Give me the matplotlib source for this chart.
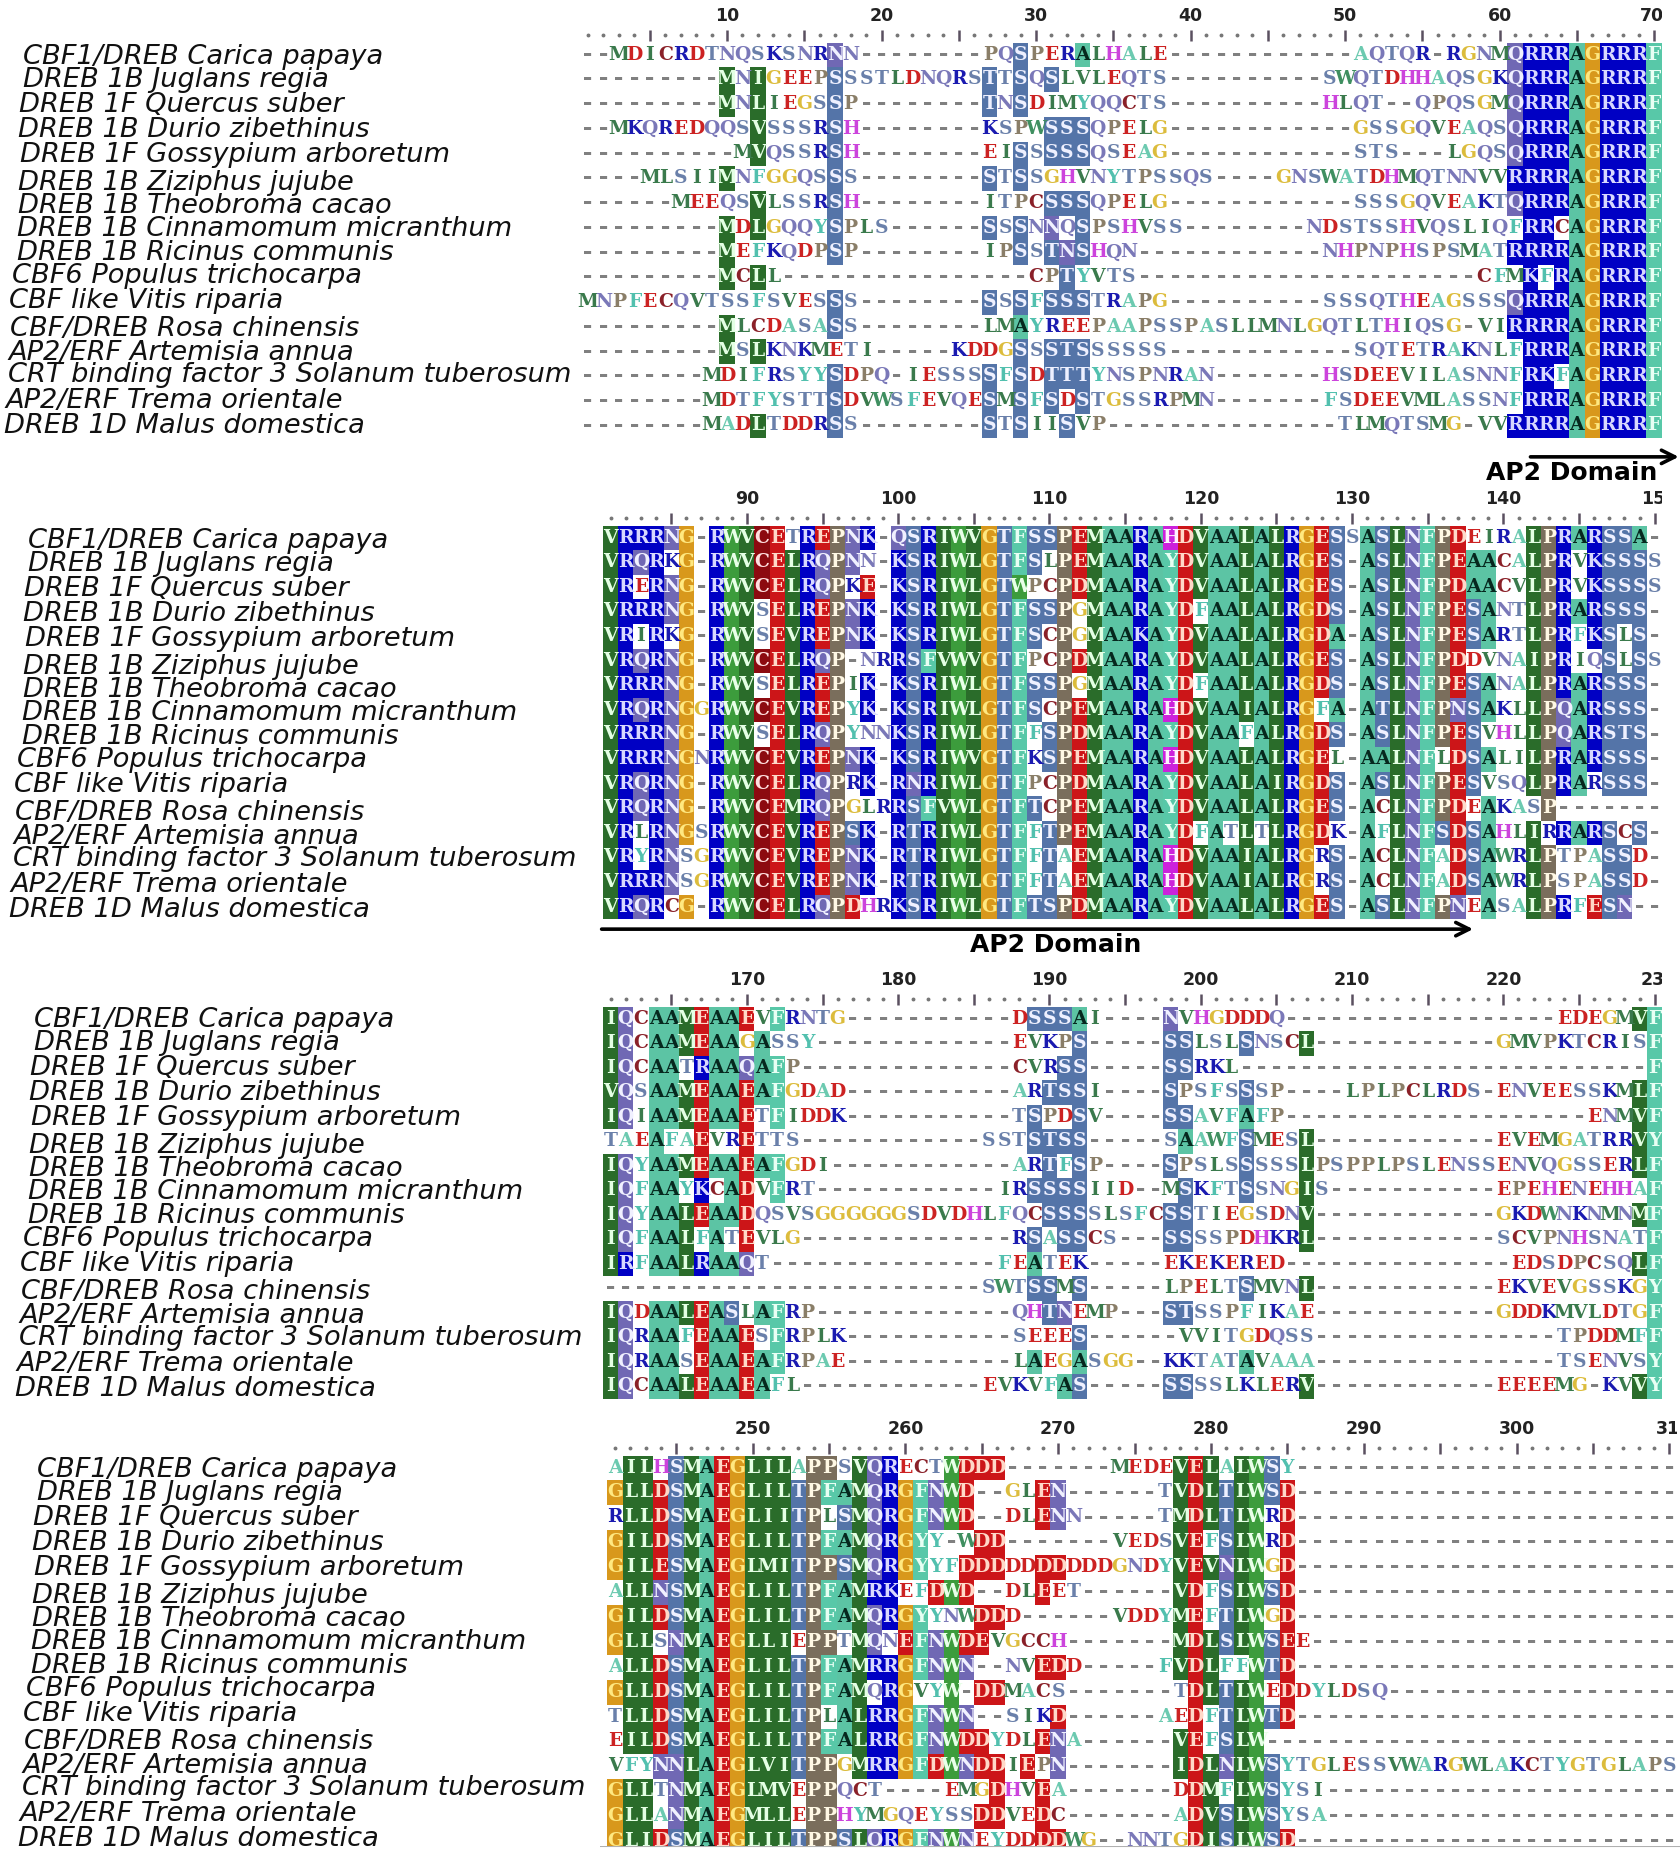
import matplotlib
matplotlib.use('Agg')
import matplotlib.pyplot as plt
from matplotlib.patches import Rectangle
from matplotlib.transforms import Bbox

W, H = 1681, 1857

# Row names of the alignment
names = ["CBF1/DREB Carica papaya", "DREB 1B Juglans regia", "DREB 1F Quercus suber",
         "DREB 1B Durio zibethinus", "DREB 1F Gossypium arboretum", "DREB 1B Ziziphus jujube",
         "DREB 1B Theobroma cacao", "DREB 1B Cinnamomum micranthum", "DREB 1B Ricinus communis",
         "CBF6 Populus trichocarpa", "CBF like Vitis riparia", "CBF/DREB Rosa chinensis",
         "AP2/ERF Artemisia annua", "CRT binding factor 3 Solanum tuberosum",
         "AP2/ERF Trema orientale", "DREB 1D Malus domestica"]

# Sequences, ten columns per piece. Upper case = shaded cell, lower case = plain letter
block1 = [
    "--mdicrdtn" "qsksnrNn--" "------pqSp" "erAlhale--" "----------" "aqtqr-rgnm" "QRRRAGRRRF",
    "---------M" "nIgeepSsst" "ldnqrsTtSq" "Slvleqts--" "--------sw" "qtdhhaqsgk" "QRRRAGRRRF",
    "---------M" "nLiegsSp--" "------TnSd" "imyqqcts--" "--------hl" "qt--qpqsgm" "QRRRAGRRRF",
    "--mkqredqq" "sVsssrSh--" "------kspw" "SSSqpelg--" "----------" "gssgqveaqs" "QRRRAGRRRF",
    "----------" "mVqssrSh--" "------eiSs" "SSSqseag--" "----------" "sts---lgqs" "QRRRAGRRRF",
    "----mlsiiM" "nfggqsSs--" "------StSs" "ghvnytpssq" "s----gnswa" "tdhmqtnnvv" "RRRRAGRRRF",
    "------meeq" "sVlssrSh--" "------itpc" "SSSqpelg--" "----------" "sssgqveakt" "QRRRAGRRRF",
    "---------M" "dLgqqySpls" "------SsSn" "NqSpshvss-" "-------nds" "tsshvqsliq" "fRRcAGRRRF",
    "---------M" "efkqdpSp--" "------ipSs" "TNShqn----" "--------nh" "pnphspsmat" "RRRRAGRRRF",
    "---------M" "cLl-------" "---------c" "pTyvts----" "----------" "--------cf" "mKfRAGRRRF",
    "mnpfecqvts" "sfsvesSs--" "------SsSf" "SSStrapg--" "--------ss" "sqtheagsss" "QRRRAGRRRF",
    "---------M" "lcdasaSs--" "------lmAy" "reepaapssp" "asllmnlgqt" "lthiqsg-vi" "RRRRAGRRRF",
    "---------M" "sLknkmeti-" "----kddgSs" "STSsssss--" "----------" "sqtetraknl" "fRRRAGRRRF",
    "--------md" "ifrsyySdpq" "-iesssSfSd" "TTTynspnra" "n-------hs" "deevilasnn" "fRKfAGRRRF",
    "--------md" "tfysttSdvw" "sfevqeSmSf" "SdStgssrpm" "n-------fs" "deevmlassn" "fRRRAGRRRF",
    "--------ma" "dLtddrSs--" "------StSi" "iSvp------" "---------t" "lmqtsmg-vv" "RRRRAGRRRF",
]
block2 = [
    "VRRRNG-RWV" "CEtREPNK-Q" "SRIWVGTFSS" "PEMAARAHDV" "AALALRGESs" "ASLNFPDeir" "aLPRARSSA-",
    "VRQRkG-RWV" "CELRQPNn-K" "SRIWLGTFSl" "PEMAARAYDV" "AALALRGES-" "ASLNFPEAAc" "aLPRvKSSSs",
    "VReRNG-RWV" "CELRQPkE-K" "SRIWLGTWpc" "PDMAARAYDV" "AALALRGES-" "ASLNFPDAAc" "vLPRvKSSSs",
    "VRRRNG-RWV" "sELREPNK-K" "SRIWLGTFSS" "PgMAARAYDf" "AALALRGDS-" "ASLNFPESAn" "tLPRARSSS-",
    "VRiRkG-RWV" "sEVREPNK-K" "SRIWLGTFSc" "PgMAAKAYDV" "AALALRGDA-" "ASLNFPESAr" "tLPRfKSlS-",
    "VRQRNG-RWV" "CELRQP-nrR" "SFVWVGTFpc" "PDMAARAYDV" "AALALRGES-" "ASLNFPDdvn" "aIPRiqSlSs",
    "VRRRNG-RWV" "sELREPiK-K" "SRIWLGTFSS" "PgMAARAYDf" "AALALRGDS-" "ASLNFPESAn" "aLPRARSSS-",
    "VRQRNGgRWV" "CEVREPyK-K" "SRIWLGTFSc" "PEMAARAHDV" "AAIALRGfA-" "ATLNFPNSAk" "lLPQARSSS-",
    "VRRRNG-RWV" "sELRQPynnK" "SRIWLGTFfS" "PDMAARAYDV" "AAfALRGDS-" "ASLNFPESvh" "lLPQARSTS-",
    "VRRRNGnRWV" "CEVREPNK-K" "SRIWVGTFkS" "PEMAARAHDV" "AALALRGEl-" "AALNFlDSAl" "iLPRARSSS-",
    "VRQRNG-RWV" "CELRQPrK-R" "NRIWLGTFpc" "PDMAARAYDV" "AALAIRGDS-" "ASLNFPESvs" "qLPRArSSS-",
    "VRQRNG-RWV" "CEMRQPglrR" "SFVWLGTFTc" "PEMAARAYDV" "AALALRGES-" "AcLNFPDeAk" "asP-------",
    "VRlRNGsRWV" "CEVREPSK-R" "TRIWLGTFfT" "PEMAARAYDf" "AtLtLRGDk-" "AfLNFSDSAh" "lIrRARScS-",
    "VRyRNsgRWV" "CEVREPNK-R" "TRIWLGTFfT" "aEMAARAHDV" "AAIALRGrS-" "AcLNFaDSAw" "rLPtpaSSd-",
    "VRRRNsgRWV" "CEVREPNK-R" "TRIWLGTFfT" "aEMAARAHDV" "AAIALRGrS-" "AcLNFaDSAw" "rLPspaSSd-",
    "VRQRcG-RWV" "CELRQPDhrK" "SRIWLGTFTS" "PDMAARAYDV" "AALALRGES-" "ASLNFPNeAs" "aLPRfESN--",
]
block3 = [
    "IQcAAMEAAE" "vFrntg----" "-------dSS" "SAi----Nvh" "gdddq-----" "----------" "---edegmVF",
    "IQcAAMEAAg" "Assy------" "-------evk" "pS-----SSl" "slSnscL---" "---------g" "mvpktcrisF",
    "IQcAAtRAAQ" "AFp-------" "-------cvr" "SS-----SSr" "kl--------" "----------" "---------F",
    "VQsAAMEAAE" "AFgdad----" "-------arT" "SSi----Sps" "fsSsp----l" "plpclrds-e" "nveesskmLF",
    "IQiAAMEAAE" "tFiddk----" "-------tSp" "dSv----SSa" "vfAfp-----" "----------" "-----enmVF",
    "taeAfaEvrE" "tts-------" "-----sstST" "SS-----sAa" "wfSmesL---" "---------e" "vemgatrrVY",
    "IQyAAMEAAE" "AFgdi-----" "-------arT" "fSp----Sps" "lsSsssLpsp" "plpslensse" "nvqgsserLF",
    "IQfAAyKcAD" "vFrt------" "------irSS" "SSiid--mSk" "ftSsngIs--" "---------e" "pehenehhaF",
    "IQyAALEAAD" "qsvsgggggg" "sdvdhlfqcS" "SSslsfcSSt" "iegsdnV---" "---------g" "kdwnknmnMF",
    "IQfAALfAtE" "vlg-------" "-------rSa" "SScs---SSs" "spdhkrL---" "---------s" "cvpnhsnatF",
    "IRfAALRAAQ" "t---------" "------feAt" "ek-----eke" "kered-----" "----------" "edsdpcsqLF",
    "----------" "----------" "-----swtSS" "mS-----lpe" "ltSmvnL---" "---------e" "kvevgsskgY",
    "IQdAALEASl" "AFrp------" "-------qhT" "Nemp---STs" "spfikae---" "---------g" "ddkmvldtgF",
    "IQrAAfEAAE" "sFrplk----" "-------see" "eS------vv" "itgdqss---" "----------" "---tpddmfF",
    "IQrAAsEAAE" "AFrpae----" "-------lAe" "gAsgg--kkt" "atAvaaa---" "----------" "---tsenvsY",
    "IQcAALEAAE" "Afl-------" "-----evkvf" "AS-----SSs" "slklerV---" "---------e" "eeemg-kvVY",
]
block4 = [
    "aILhSMAEGL" "ILaPPsVQRe" "ctWDDD----" "---medeVEL" "aLWSy-----" "----------" "----------",
    "GLLDSMAEGL" "ILTPFAMQRG" "FNWD--glEN" "------tVDL" "TLWSD-----" "----------" "----------",
    "rLLDSMAEGL" "IITPlSMQRG" "FNWD--dlEN" "n-----tMDL" "TLWrD-----" "----------" "----------",
    "GILDSMAEGL" "ILTPFAMQRG" "Yy-wDD----" "---vedsVEf" "SLWrD-----" "----------" "----------",
    "GILESMAEGL" "MITPPSMQRG" "YyfDDDddDD" "dddgndyVEV" "NLWgD-----" "----------" "----------",
    "aLLNSMAEGL" "ILTPFAMRKe" "fDWD--dlEe" "t------VDf" "SLWSD-----" "----------" "----------",
    "GILDSMAEGL" "ILTPFAMQRG" "YynwDDd---" "---vddyMEf" "TLWgD-----" "----------" "----------",
    "GLLsNMAEGL" "LIePPtMQnE" "FNWDEvgcch" "-------MDL" "SLWSEe----" "----------" "----------",
    "aLLDSMAEGL" "ILTPFAMRRG" "FNWN--nvED" "d-----fVDL" "ffWTD-----" "----------" "----------",
    "GLLDSMAEGL" "ILTPFAMqRG" "vyW-DDmacs" "-------tDL" "TLWeDdylds" "q---------" "----------",
    "tLLDSMAEGL" "ILTPlALRRG" "FNWN--sikD" "------aeDf" "TLWTD-----" "----------" "----------",
    "eILDSMAEGL" "ILTPFALRRG" "FNWDDydlEN" "a------VEf" "SLW-------" "----------" "----------",
    "vfyNNLAEGL" "VITPPgMRRG" "FDWNDDiEpN" "-------IDL" "NLWSytgles" "svwargwlak" "ctygtglaps",
    "GLLtNMAEGL" "MVePPqct--" "--emgDhvEa" "-------dDM" "fLWSysi---" "----------" "----------",
    "GLLaNMAEGM" "LLePPhymgq" "eyssDDveDc" "-------aDV" "SLWSysa---" "----------" "----------",
    "GLIDSMAEGL" "ILTPPSLQRG" "FNWNeyddDD" "wg--nntgDI" "SLWSD-----" "----------" "----------",
]
blocks = [block1, block2, block3, block4]
first_cols = [1, 81, 161, 241]
# last ruler number of a line is cut off in the figure
last_labels = ["70", "15", "23", "31"]

# layout in pixels: centre of first column, column pitch, centre of first row, row pitch
col_x0 = [588, 610.7, 610.7, 615]
col_dx = [15.45, 15.13, 15.13, 15.28]
row_y0 = [55, 538, 1019, 1468]
row_dy = [24.73, 24.6, 24.5, 24.9]
label_left = [23, 23, 19, 18, 20, 18, 18, 17, 17, 12, 9, 10, 8, 8, 5, 4]
label_y = [56.7, 80, 105, 130, 155, 182.7, 206, 229, 252.7, 276, 300.7, 329, 352.7, 375, 400.7, 425.7]
label_dx = [0, 5, 11, 14]
label_dy = [0, 484, 963, 1413]

# Cell colours per residue group
groups = {"RK": ("#0000c4", "#d8d8ff", "#1a1ab0"),
          "DE": ("#cc1518", "#ffd8c8", "#cc2222"),
          "C": ("#8c0a10", "#ffe0e0", "#8a2028"),
          "G": ("#d8981c", "#ffe880", "#dcbc3c"),
          "A": ("#5cc4a4", "#06281e", "#6ccab0"),
          "FY": ("#58c8a8", "#e8fff4", "#52c0ae"),
          "W": ("#3c9c3c", "#e8ffe8", "#3f8f60"),
          "VILM": ("#2a6c2a", "#e4ffe4", "#3a7a4c"),
          "ST": ("#5474a8", "#eef0ff", "#6a80aa"),
          "NQ": ("#7068b4", "#f0f0ff", "#7a78b8"),
          "P": ("#7a6e5c", "#fff8e4", "#8a7e68"),
          "H": ("#cc22dc", "#fff0ff", "#cc44dc")}
bg_col, shaded_txt, plain_txt = {}, {}, {}
for letters, cols in groups.items():
    for l in letters:
        bg_col[l], shaded_txt[l], plain_txt[l] = cols

fig = plt.figure(figsize=(W / 100, H / 100), dpi=100, facecolor='white')

for b, seqs in enumerate(blocks):
    first = first_cols[b]
    dx, dy = col_dx[b], row_dy[b]
    left = col_x0[b] - dx / 2
    top = row_y0[b] - dy / 2
    ax = fig.add_axes([left / W, 1 - (top + 16 * dy) / H, 70 * dx / W, 16 * dy / H])
    ax.set_xlim(first - 0.5, first + 69.5)
    ax.set_ylim(15.5, -0.5)
    ax.axis('off')

    # ruler
    cols = list(range(first, first + 70))
    tens = [c for c in cols if c % 5 == 0]
    dots = [c for c in cols if c % 5 != 0]
    ax.plot(dots, [-0.8] * len(dots), ls='', marker='o', ms=1.8, color='#777777', clip_on=False)
    ax.vlines(tens, -1.02, -0.58, color='#5a5060', lw=1.8, clip_on=False)
    for c in cols:
        if c % 10 == 0:
            if c == first + 69:
                t = ax.text(c - 0.9, -1.58, last_labels[b], fontsize=12.5, fontweight='bold', ha='left',
                            va='center', color='#222222')
                # the number stops at the right edge of the block
                t.set_clip_on(True)
                t.set_clip_box(Bbox([[0, 0], [left + 70 * dx, H]]))
            else:
                ax.text(c, -1.58, str(c), fontsize=12.5, fontweight='bold', ha='center',
                        va='center', color='#222222', clip_on=False)

    # cells and letters
    for r, seq in enumerate(seqs):
        for i, ch in enumerate(seq):
            c = first + i
            if ch == '-':
                ax.text(c, r - 0.05, '-', fontsize=18, family='Liberation Mono', fontweight='bold',
                        ha='center', va='center', color='#808080', clip_on=False)
            elif ch.isupper():
                ax.add_patch(Rectangle((c - 0.5, r - 0.5), 1, 1, fc=bg_col[ch], lw=0, zorder=1))
                ax.text(c, r - 0.02, ch, fontsize=13.5, family='DejaVu Serif', fontweight='bold',
                        ha='center', va='center', color=shaded_txt[ch], zorder=2, clip_on=False)
            else:
                u = ch.upper()
                ax.text(c, r - 0.02, u, fontsize=13.5, family='DejaVu Serif', fontweight='bold',
                        ha='center', va='center', color=plain_txt[u], zorder=2, clip_on=False)

    # row names
    for r, name in enumerate(names):
        fig.text((label_left[r] + label_dx[b]) / W, 1 - (label_y[r] + label_dy[b]) / H, name,
                 fontsize=19.6, style='italic', family='DejaVu Sans', color='#111111',
                 ha='left', va='center')

    # domain arrows
    if b == 0:
        ax.annotate('', xy=(71.6, 16.25), xytext=(62, 16.25), annotation_clip=False,
                    arrowprops=dict(arrowstyle='->', lw=2.6, color='black', mutation_scale=24, shrinkA=0, shrinkB=0))
        ax.text(64.7, 16.9, 'AP2 Domain', fontsize=18, fontweight='bold', ha='center', va='center', clip_on=False)
    if b == 1:
        ax.annotate('', xy=(138, 15.9), xytext=(80.4, 15.9), annotation_clip=False,
                    arrowprops=dict(arrowstyle='->', lw=2.6, color='black', mutation_scale=24, shrinkA=0, shrinkB=0))
        ax.text(110.4, 16.55, 'AP2 Domain', fontsize=18, fontweight='bold', ha='center', va='center', clip_on=False)

# the source picture is cut just below the last row
cover = fig.add_axes([600 / W, 0, 1081 / W, 11 / H])
cover.axis('off')
cover.add_patch(Rectangle((0, 0), 1, 1, fc='white', lw=0, transform=cover.transAxes))
cover.axhline(1, color='#b0b0b0', lw=1.5)

fig.savefig('out.png', dpi=100)
